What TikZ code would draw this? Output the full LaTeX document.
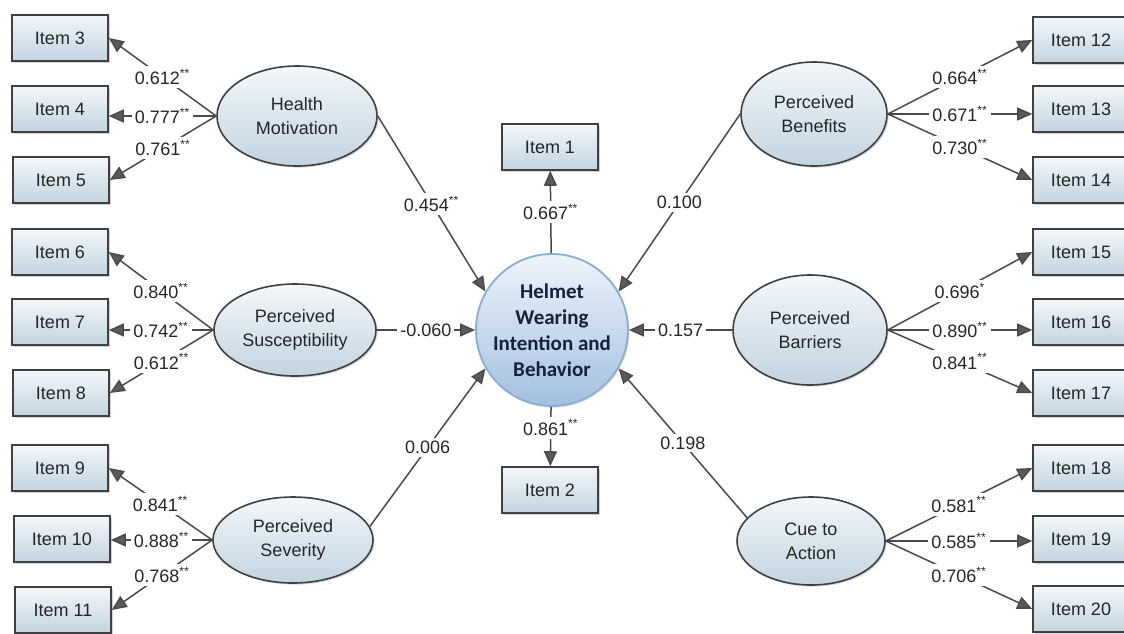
\documentclass[tikz,border=0pt]{standalone}
\usepackage{fontspec}
\setmainfont{Liberation Sans}
\newfontfamily\hubfont{Carlito}
\usetikzlibrary{arrows.meta,shapes.geometric,shadows}
\definecolor{boxtop}{HTML}{F3F7FA}
\definecolor{boxbot}{HTML}{C2D4E0}
\definecolor{linegray}{HTML}{4A4A4A}
\definecolor{tipgray}{HTML}{5A5A5A}
\definecolor{hubtop}{HTML}{EEF4FB}
\definecolor{hubbot}{HTML}{A3BFDF}
\definecolor{hubedge}{HTML}{8AADD6}
\definecolor{navy}{HTML}{16213A}
\newcommand{\twostar}{\textsuperscript{**}}
\newcommand{\onestar}{\textsuperscript{*}}

\begin{document}
\begin{tikzpicture}[x=0.5pt, y=-0.5pt,
  item/.style={draw=black!75, line width=0.8pt, top color=boxtop, bottom color=boxbot,
    minimum width=48pt, minimum height=23pt, inner sep=0pt, text=black!85,
    font=\fontsize{9}{10}\selectfont,
    drop shadow={shadow xshift=0.8pt, shadow yshift=-0.8pt, opacity=0.35}},
  latent/.style={ellipse, draw=black!75, line width=0.8pt, top color=boxtop, bottom color=boxbot,
    inner sep=0pt, align=center, text=black!85, font=\fontsize{9}{12}\selectfont,
    drop shadow={shadow xshift=0.8pt, shadow yshift=-0.8pt, opacity=0.3}},
  hub/.style={circle, draw=hubedge, line width=0.9pt, top color=hubtop, bottom color=hubbot,
    minimum size=76pt, inner sep=0pt, align=center, text=navy,
    font=\hubfont\bfseries\fontsize{10.5}{13}\selectfont,
    drop shadow={shadow xshift=0.6pt, shadow yshift=-0.8pt, opacity=0.25}},
  loading/.style={draw=linegray, line width=0.75pt, -{Triangle[length=7.5pt, width=6.5pt, fill=tipgray]}},
  effect/.style={loading},
  coef/.style={fill=white, inner sep=1.5pt, text=black!85, font=\fontsize{9}{10}\selectfont}]

  \path[use as bounding box, fill=white] (0,0) rectangle (1124,633);
  \clip (0,0) rectangle (1124,633);

  % outcome and its two items
  \node[hub] (hub) at (552,330) {Helmet\\Wearing\\Intention and\\Behavior};
  \node[item] (i1) at (550,147) {Item 1};
  \node[item] (i2) at (550,490) {Item 2};

  % left constructs
  \node[latent, minimum width=80pt, minimum height=50pt] (hm) at (297,116) {Health\\Motivation};
  \node[latent, minimum width=81pt, minimum height=46pt] (psu) at (295,330) {Perceived\\Susceptibility};
  \node[latent, minimum width=80pt, minimum height=43pt] (pse) at (293,540) {Perceived\\Severity};

  % right constructs
  \node[latent, minimum width=73pt, minimum height=52pt] (pb) at (814,114) {Perceived\\Benefits};
  \node[latent, minimum width=77pt, minimum height=55pt] (pba) at (810,330) {Perceived\\Barriers};
  \node[latent, minimum width=74pt, minimum height=44pt] (ca) at (811,541) {Cue to\\Action};

  % left items
  \node[item] (i3) at (60,38) {Item 3};
  \node[item] (i4) at (60,109) {Item 4};
  \node[item] (i5) at (61,180) {Item 5};
  \node[item] (i6) at (60,252) {Item 6};
  \node[item] (i7) at (60,322) {Item 7};
  \node[item] (i8) at (61,393) {Item 8};
  \node[item] (i9) at (60,468) {Item 9};
  \node[item] (i10) at (62,539) {Item 10};
  \node[item] (i11) at (63,610) {Item 11};

  % right items
  \node[item] (i12) at (1081,40) {Item 12};
  \node[item] (i13) at (1081,109) {Item 13};
  \node[item] (i14) at (1081,180) {Item 14};
  \node[item] (i15) at (1081,252) {Item 15};
  \node[item] (i16) at (1081,322) {Item 16};
  \node[item] (i17) at (1081,393) {Item 17};
  \node[item] (i18) at (1081,468) {Item 18};
  \node[item] (i19) at (1081,539) {Item 19};
  \node[item] (i20) at (1081,609) {Item 20};

  % loadings
  \draw[loading] (hm.west) -- node[coef] {0.612\twostar} (i3.east);
  \draw[loading] (hm.west) -- node[coef] {0.777\twostar} (hm.west -| i4.east);
  \draw[loading] (hm.west) -- node[coef] {0.761\twostar} (i5.east);
  \draw[loading] (psu.west) -- node[coef] {0.840\twostar} (i6.east);
  \draw[loading] (psu.west) -- node[coef] {0.742\twostar} (psu.west -| i7.east);
  \draw[loading] (psu.west) -- node[coef] {0.612\twostar} (i8.east);
  \draw[loading] (pse.west) -- node[coef] {0.841\twostar} (i9.east);
  \draw[loading] (pse.west) -- node[coef] {0.888\twostar} (pse.west -| i10.east);
  \draw[loading] (pse.west) -- node[coef] {0.768\twostar} (i11.east);

  \draw[loading] (pb.east) -- node[coef] {0.664\twostar} (i12.west);
  \draw[loading] (pb.east) -- node[coef] {0.671\twostar} (pb.east -| i13.west);
  \draw[loading] (pb.east) -- node[coef] {0.730\twostar} (i14.west);
  \draw[loading] (pba.east) -- node[coef] {0.696\onestar} (i15.west);
  \draw[loading] (pba.east) -- node[coef] {0.890\twostar} (pba.east -| i16.west);
  \draw[loading] (pba.east) -- node[coef] {0.841\twostar} (i17.west);
  \draw[loading] (ca.east) -- node[coef] {0.581\twostar} (i18.west);
  \draw[loading] (ca.east) -- node[coef] {0.585\twostar} (ca.east -| i19.west);
  \draw[loading] (ca.east) -- node[coef] {0.706\twostar} (i20.west);

  \draw[loading] (hub) -- node[coef] {0.667\twostar} (i1);
  \draw[loading] (hub) -- node[coef, pos=0.35] {0.861\twostar} (i2);

  % structural paths
  \draw[effect] (hm.east) -- node[coef] {0.454\twostar} (hub.150);
  \draw[effect] (psu.east) -- node[coef] {-0.060} (hub.west);
  \draw[effect] (pse.10) -- node[coef] {0.006} (hub.210);
  \draw[effect] (pb.west) -- node[coef] {0.100} (hub.30);
  \draw[effect] (pba.west) -- node[coef] {0.157} (hub.east);
  \draw[effect] (ca.160) -- node[coef] {0.198} (hub.330);
\end{tikzpicture}
\end{document}
